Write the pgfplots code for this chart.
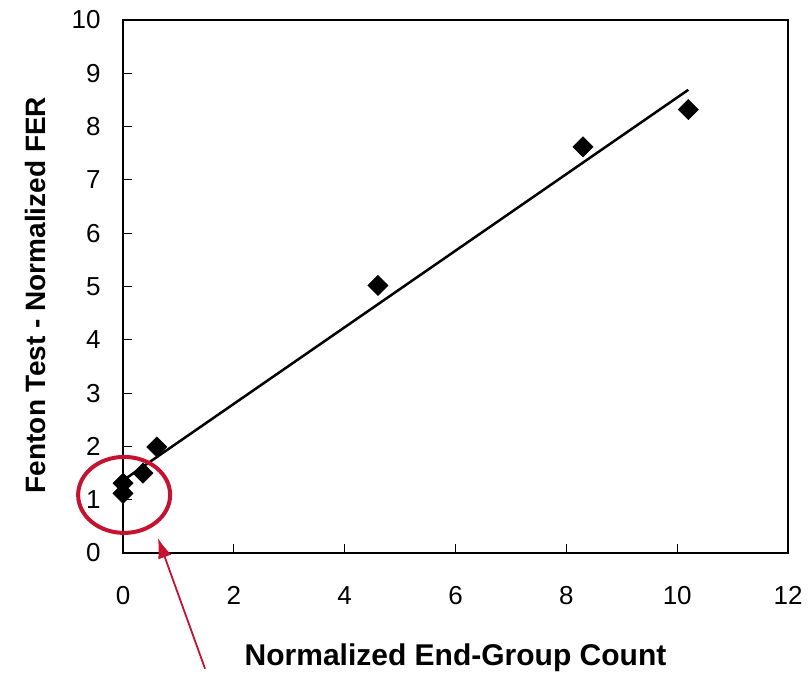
\documentclass[border=0pt]{standalone}
\usepackage{pgfplots}
\pgfplotsset{compat=1.18}
\usepackage{fontspec}
\setmainfont{Liberation Sans}
\usetikzlibrary{arrows.meta}
\definecolor{ringred}{RGB}{196,18,48}
\begin{document}
\begin{tikzpicture}
\begin{axis}[
  scale only axis,
  width=665pt, height=533pt,
  xmin=0, xmax=12, ymin=0, ymax=10,
  xtick={0,2,...,12}, ytick={0,1,...,10},
  tick style={line width=1.2pt, black},
  major tick length=9pt,
  tick align=inside,
  xtick pos=bottom, ytick pos=left,
  /pgf/number format/assume math mode=true,
  tick label style={font=\fontsize{26}{30}\selectfont},
  xticklabel style={yshift=-30pt},
  yticklabel style={xshift=-19pt},
  xlabel={\bfseries Normalized End-Group Count},
  ylabel={\bfseries Fenton Test - Normalized FER},
  xlabel style={font=\fontsize{30}{34}\selectfont, at={(axis description cs:0.5,0)}, anchor=base, yshift=-112pt},
  ylabel style={font=\fontsize{28}{32}\selectfont, at={(axis description cs:-0.1323,0.484)}, anchor=center},
  clip=false,
]
\addplot[only marks, mark=square*, mark size=7.2pt, black,
  mark options={rotate=45}] coordinates {
  (0,1.12) (0,1.31) (0.36,1.5) (0.61,1.99) (4.6,5.02) (8.3,7.62) (10.2,8.32)
};
\addplot[black, line width=2.5pt] coordinates {(0,1.362) (10.2,8.69)};
\draw[black, line width=2.8pt] (rel axis cs:0,0) rectangle (rel axis cs:1,1);
\draw[ringred, line width=4pt] (axis cs:0.02,1.09) ellipse [x radius=46pt, y radius=38pt];
\draw[ringred, line width=1.8pt, -{Latex[length=20pt,width=14pt]}] (axis cs:1.48,-2.17) -- (axis cs:0.63,0.28);
\path (rel axis cs:-0.185,1.0375) rectangle (rel axis cs:1.036,-0.2176);
\end{axis}
\end{tikzpicture}
\end{document}
